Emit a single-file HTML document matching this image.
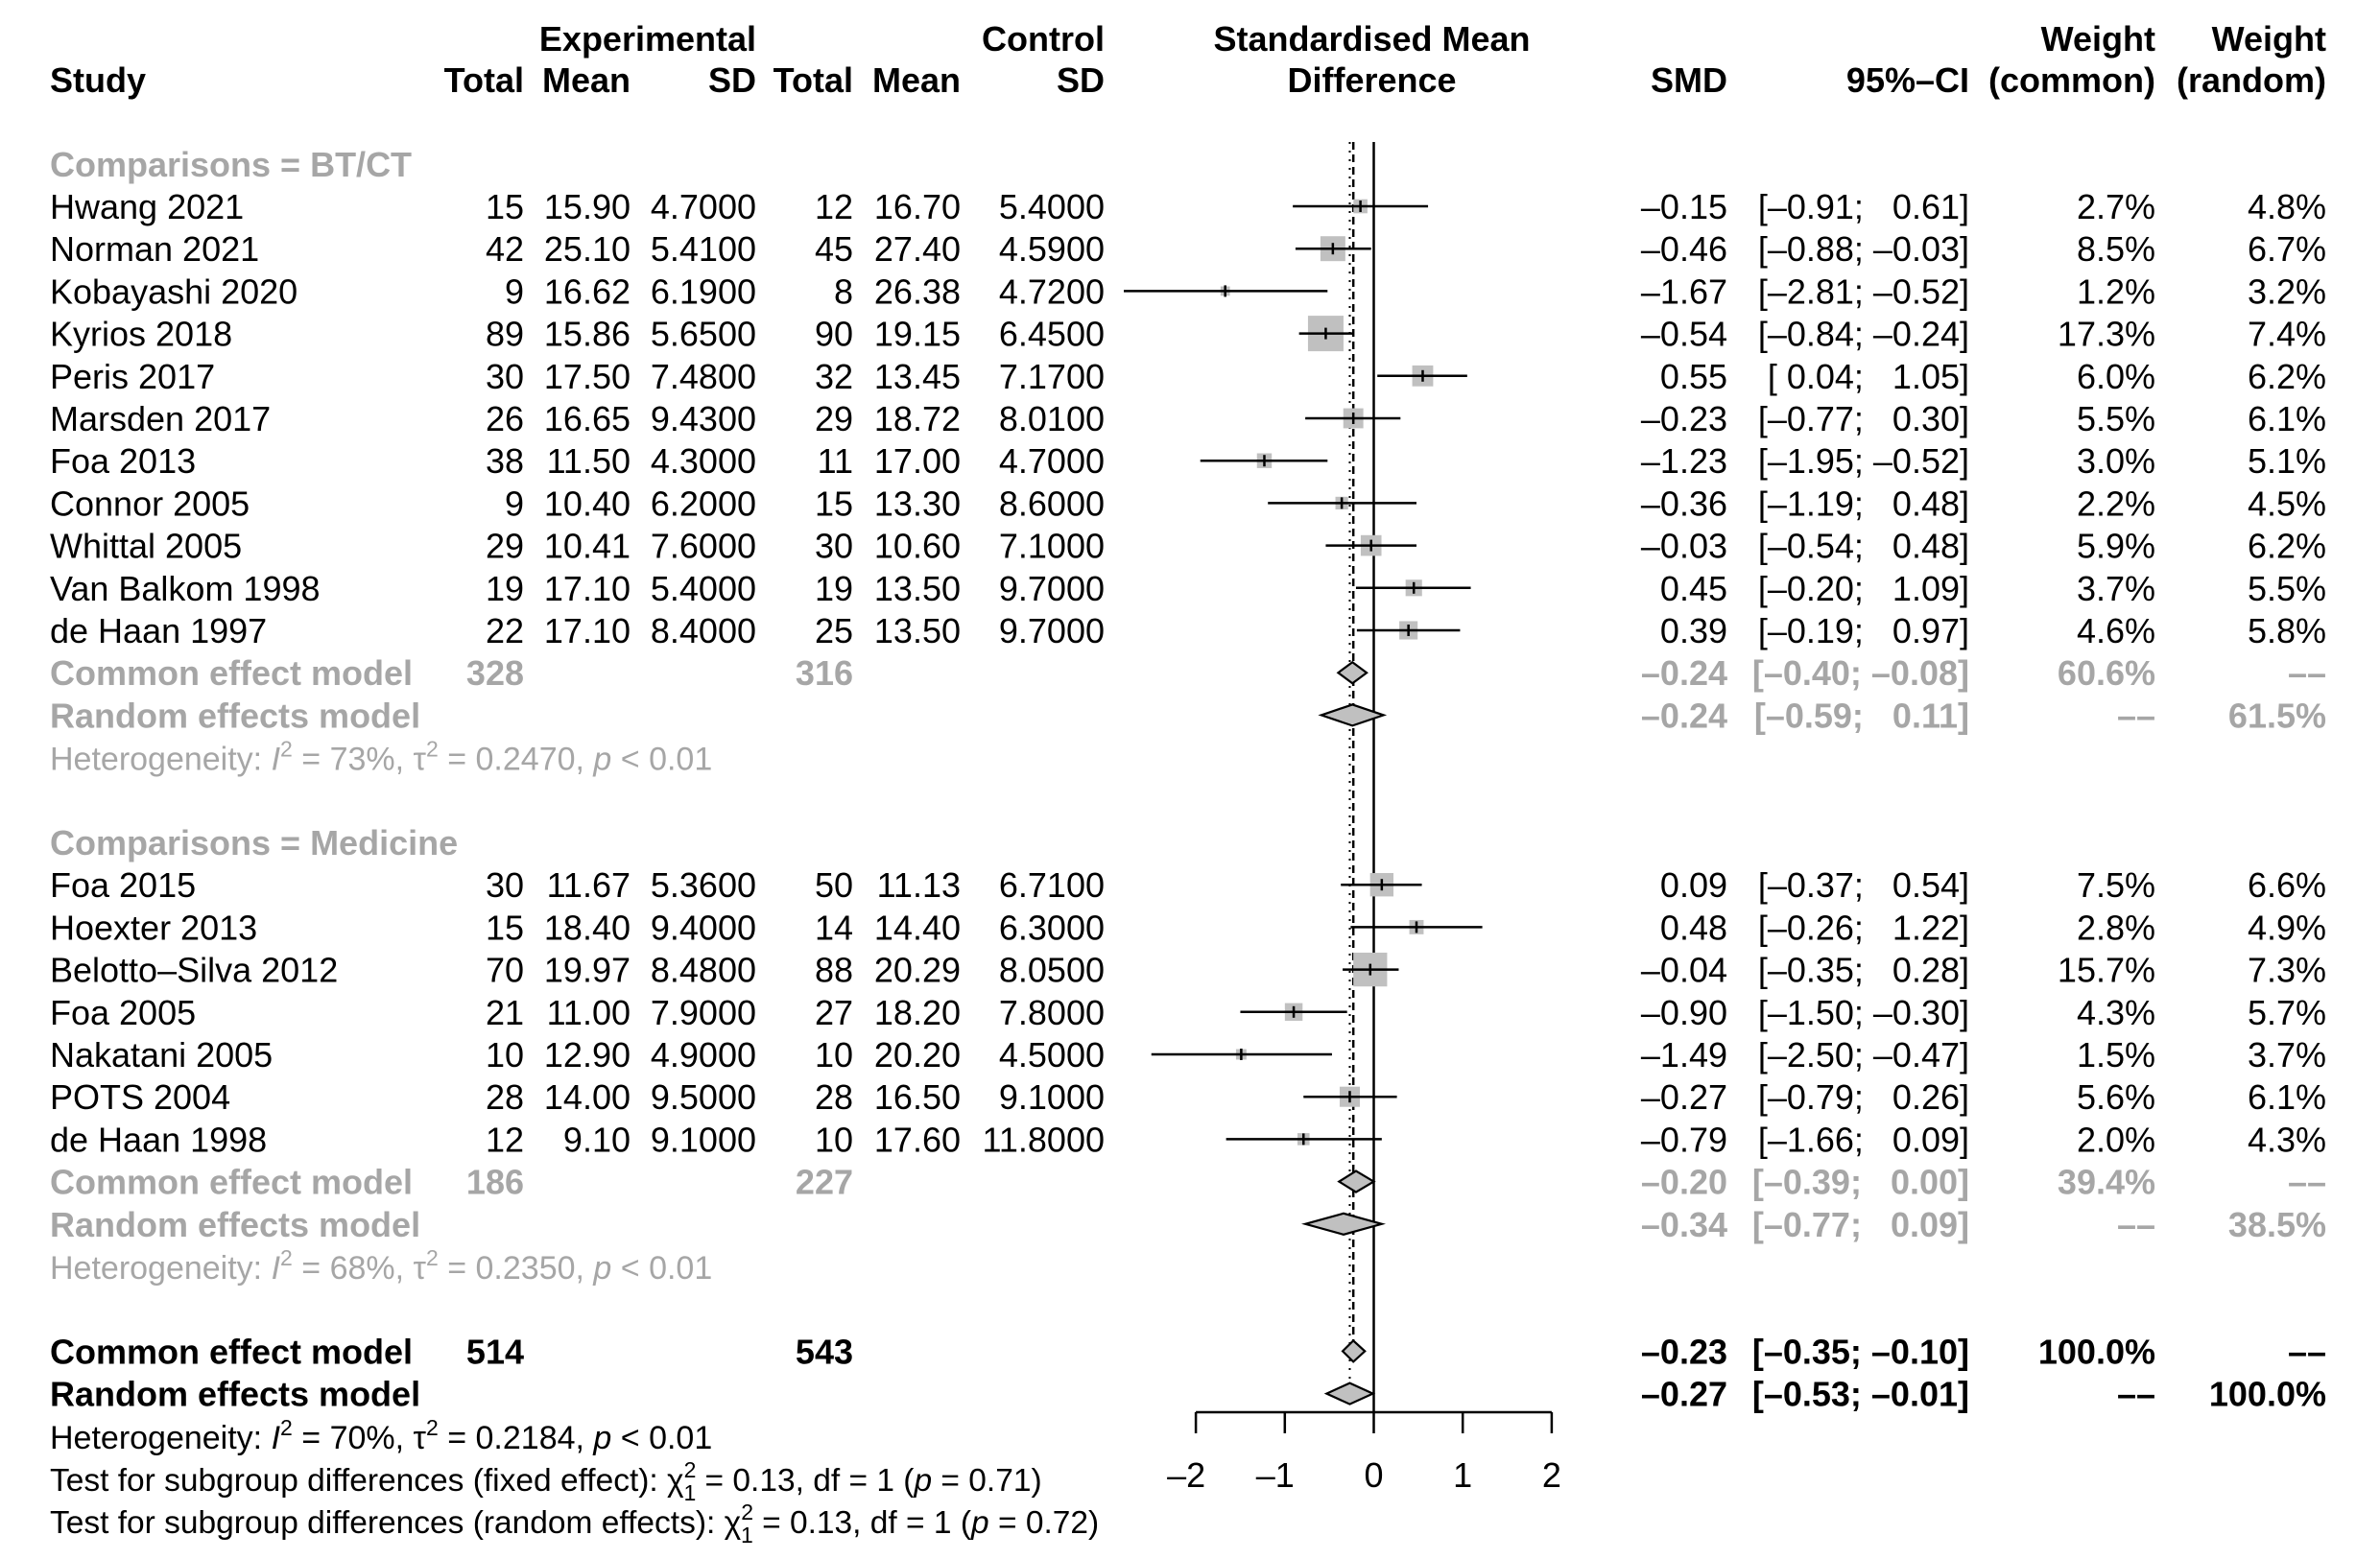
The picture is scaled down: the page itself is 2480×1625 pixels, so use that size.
<!DOCTYPE html>
<html><head><meta charset="utf-8"><style>
html,body{margin:0;padding:0;background:#fff;}
svg{display:block;font-family:"Liberation Sans",Arial,sans-serif;}
svg text{white-space:pre;}
</style></head><body>
<svg id="fp" width="2480" height="1625" viewBox="0 0 2480 1625" xmlns="http://www.w3.org/2000/svg"></svg>
<script>
// ---- data ----
const studyNames1 = ["Hwang 2021","Norman 2021","Kobayashi 2020","Kyrios 2018","Peris 2017","Marsden 2017","Foa 2013","Connor 2005","Whittal 2005","Van Balkom 1998","de Haan 1997"];
const expN1 = [15,42,9,89,30,26,38,9,29,19,22];
const expMean1 = ["15.90","25.10","16.62","15.86","17.50","16.65","11.50","10.40","10.41","17.10","17.10"];
const expSD1 = ["4.7000","5.4100","6.1900","5.6500","7.4800","9.4300","4.3000","6.2000","7.6000","5.4000","8.4000"];
const ctlN1 = [12,45,8,90,32,29,11,15,30,19,25];
const ctlMean1 = ["16.70","27.40","26.38","19.15","13.45","18.72","17.00","13.30","10.60","13.50","13.50"];
const ctlSD1 = ["5.4000","4.5900","4.7200","6.4500","7.1700","8.0100","4.7000","8.6000","7.1000","9.7000","9.7000"];
const smd1 = [-0.15,-0.46,-1.67,-0.54,0.55,-0.23,-1.23,-0.36,-0.03,0.45,0.39];
const lo1 = [-0.91,-0.88,-2.81,-0.84,0.04,-0.77,-1.95,-1.19,-0.54,-0.20,-0.19];
const hi1 = [0.61,-0.03,-0.52,-0.24,1.05,0.30,-0.52,0.48,0.48,1.09,0.97];
const wCom1 = [2.7,8.5,1.2,17.3,6.0,5.5,3.0,2.2,5.9,3.7,4.6];
const wRan1 = [4.8,6.7,3.2,7.4,6.2,6.1,5.1,4.5,6.2,5.5,5.8];

const studyNames2 = ["Foa 2015","Hoexter 2013","Belotto\u2013Silva 2012","Foa 2005","Nakatani 2005","POTS 2004","de Haan 1998"];
const expN2 = [30,15,70,21,10,28,12];
const expMean2 = ["11.67","18.40","19.97","11.00","12.90","14.00","9.10"];
const expSD2 = ["5.3600","9.4000","8.4800","7.9000","4.9000","9.5000","9.1000"];
const ctlN2 = [50,14,88,27,10,28,10];
const ctlMean2 = ["11.13","14.40","20.29","18.20","20.20","16.50","17.60"];
const ctlSD2 = ["6.7100","6.3000","8.0500","7.8000","4.5000","9.1000","11.8000"];
const smd2 = [0.09,0.48,-0.04,-0.90,-1.49,-0.27,-0.79];
const lo2 = [-0.37,-0.26,-0.35,-1.50,-2.50,-0.79,-1.66];
const hi2 = [0.54,1.22,0.28,-0.30,-0.47,0.26,0.09];
const wCom2 = [7.5,2.8,15.7,4.3,1.5,5.6,2.0];
const wRan2 = [6.6,4.9,7.3,5.7,3.7,6.1,4.3];

// pooled: [est, lo, hi]
const poolCommon1 = [-0.24,-0.40,-0.08];
const poolRandom1 = [-0.24,-0.59,0.11];
const poolCommon2 = [-0.20,-0.39,0.00];
const poolRandom2 = [-0.34,-0.77,0.09];
const poolCommonAll = [-0.23,-0.35,-0.10];
const poolRandomAll = [-0.27,-0.53,-0.01];
const axisTicks = [-2,-1,0,1,2];

// ---- layout ----
const svg = document.getElementById('fp');
const NS = 'http://www.w3.org/2000/svg';
const FS = 36, GRAY = '#a6a6a6', BOXC = '#c0c0c0';
const X0 = 1431.5, UNIT = 92.7;
const DASH = '\u2013\u2013';
function xs(v){ return X0 + v*UNIT; }
function rowY(i){ return 215 + 44.2*i; }
const colR = {eN:546,eM:657,eS:788,cN:889,cM:1001,cS:1151,smd:1800,ci:2052,wc:2246,wr:2424};

function mk(tag, attrs, parent){
  const e = document.createElementNS(NS, tag);
  for (const k in attrs) e.setAttribute(k, attrs[k]);
  (parent||svg).appendChild(e);
  return e;
}
function txt(s, x, yc, opt){
  opt = opt||{};
  const t = mk('text', {x:x, y:(yc+13).toFixed(1), 'font-size':opt.fs||FS, fill:opt.color||'#000',
    'text-anchor':opt.anchor||'start', 'font-weight':opt.bold?'bold':'normal'});
  t.setAttributeNS('http://www.w3.org/XML/1998/namespace','xml:space','preserve');
  t.textContent = s;
  
  
  return t;
}
function fmt(v){ const s = Math.abs(v).toFixed(2); return (v<0?'\u2013':'')+s; }
function fmtCI(l,h){ return '['+(l<0?'\u2013':' ')+Math.abs(l).toFixed(2)+'; '+(h<0?'\u2013':'  ')+Math.abs(h).toFixed(2)+']'; }

// headers
const H1 = 40, H2 = 83;
txt('Experimental', colR.eS, H1, {anchor:'end', bold:true, name:'experimental-header'});
txt('Control', colR.cS, H1, {anchor:'end', bold:true, name:'control-header'});
txt('Standardised Mean', X0-2, H1, {anchor:'middle', bold:true, name:'smd-header'});
txt('Difference', X0-2, H2, {anchor:'middle', bold:true, name:'smd-header-2'});
txt('Weight', colR.wc, H1, {anchor:'end', bold:true, name:'weight-common-header'});
txt('Weight', colR.wr, H1, {anchor:'end', bold:true, name:'weight-random-header'});
txt('Study', 52, H2, {bold:true, name:'study-header'});
[['Total','eN'],['Mean','eM'],['SD','eS'],['Total','cN'],['Mean','cM'],['SD','cS']].forEach(function(p){
  txt(p[0], colR[p[1]], H2, {anchor:'end', bold:true, name:'column-header'});
});
txt('SMD', colR.smd, H2, {anchor:'end', bold:true, name:'smd-col-header'});
txt('95%\u2013CI', colR.ci, H2, {anchor:'end', bold:true, name:'ci-col-header'});
txt('(common)', colR.wc, H2, {anchor:'end', bold:true, name:'weight-common-header-2'});
txt('(random)', colR.wr, H2, {anchor:'end', bold:true, name:'weight-random-header-2'});

// reference lines
const gLines = mk('g', {});


const zl = mk('line', {x1:xs(0), x2:xs(0), y1:148, y2:1472, stroke:'#000', 'stroke-width':2.5}, gLines);


const dl = mk('line', {x1:xs(poolCommonAll[0]), x2:xs(poolCommonAll[0]), y1:148, y2:rowY(27)-11, stroke:'#000', 'stroke-width':2.5, 'stroke-dasharray':'8 5'}, gLines);


const ol = mk('line', {x1:xs(poolRandomAll[0]), x2:xs(poolRandomAll[0]), y1:148, y2:rowY(28)-11, stroke:'#000', 'stroke-width':2, 'stroke-dasharray':'2 7'}, gLines);



function studyRow(i, name, en, em, es, cn, cm, cs, est, l, h, wc, wr){
  const y = rowY(i);
  txt(name, 52, y, {name:'study-name'});
  txt(String(en), colR.eN, y, {anchor:'end', name:'exp-total'});
  txt(em, colR.eM, y, {anchor:'end', name:'exp-mean'});
  txt(es, colR.eS, y, {anchor:'end', name:'exp-sd'});
  txt(String(cn), colR.cN, y, {anchor:'end', name:'ctl-total'});
  txt(cm, colR.cM, y, {anchor:'end', name:'ctl-mean'});
  txt(cs, colR.cS, y, {anchor:'end', name:'ctl-sd'});
  txt(fmt(est), colR.smd, y, {anchor:'end', name:'smd-value'});
  txt(fmtCI(l,h), colR.ci, y, {anchor:'end', name:'ci-value'});
  txt(wc.toFixed(1)+'%', colR.wc, y, {anchor:'end', name:'weight-common'});
  txt(wr.toFixed(1)+'%', colR.wr, y, {anchor:'end', name:'weight-random'});
  const s = 8.9*Math.sqrt(wc);
  const box = mk('rect', {x:xs(est)-s/2, y:y-s/2, width:s, height:s, fill:BOXC});
  
  
  const ci = mk('line', {x1:xs(l), x2:xs(h), y1:y, y2:y, stroke:'#000', 'stroke-width':2.5});
  
  
  const tk = mk('line', {x1:xs(est), x2:xs(est), y1:y-6, y2:y+6, stroke:'#000', 'stroke-width':2.5});
  
  
}
function diamond(i, p, name){
  const y = rowY(i);
  const d = mk('polygon', {points:[xs(p[1])+','+y, xs(p[0])+','+(y-11), xs(p[2])+','+y, xs(p[0])+','+(y+11)].join(' '), fill:BOXC, stroke:'#000', 'stroke-width':2.2});
  
  
}
function poolRow(i, label, nE, nC, p, wc, wr, color, name){
  const y = rowY(i);
  txt(label, 52, y, {bold:true, color:color, name:name+'-label'});
  if (nE!==null) txt(String(nE), colR.eN, y, {anchor:'end', bold:true, color:color, name:name+'-exp-total'});
  if (nC!==null) txt(String(nC), colR.cN, y, {anchor:'end', bold:true, color:color, name:name+'-ctl-total'});
  txt(fmt(p[0]), colR.smd, y, {anchor:'end', bold:true, color:color, name:name+'-smd'});
  txt(fmtCI(p[1],p[2]), colR.ci, y, {anchor:'end', bold:true, color:color, name:name+'-ci'});
  txt(wc, colR.wc, y, {anchor:'end', bold:true, color:color, name:name+'-weight-common'});
  txt(wr, colR.wr, y, {anchor:'end', bold:true, color:color, name:name+'-weight-random'});
  diamond(i, p, name+'-diamond');
}
function hetRow(i, I2, tau2, color, name){
  const y = rowY(i);
  const t = mk('text', {x:52, y:(y+13).toFixed(1), 'font-size':34, fill:color});
  
  
  t.innerHTML = 'Heterogeneity: <tspan font-style="italic">I</tspan><tspan font-size="23" dy="-14">2</tspan><tspan dy="14"> = '+I2+', \u03c4</tspan><tspan font-size="23" dy="-14">2</tspan><tspan dy="14"> = '+tau2+', </tspan><tspan font-style="italic">p</tspan> &lt; 0.01';
}
function testRow(i, s){
  const y = rowY(i);
  const t = mk('text', {x:52, y:(y+13).toFixed(1), 'font-size':33.5, fill:'#000'});
  
  
  t.innerHTML = 'Test for subgroup differences ('+s[0]+'): \u03c7<tspan font-size="23" dy="-14">2</tspan><tspan font-size="23" dx="-13" dy="24">1</tspan><tspan dy="-10"> = 0.13, df = 1 (</tspan><tspan font-style="italic">p</tspan> = '+s[1]+')';
}

// group 1
txt('Comparisons = BT/CT', 52, rowY(-1), {bold:true, color:GRAY, name:'subgroup-header-btct'});
for (let k=0;k<studyNames1.length;k++) studyRow(k, studyNames1[k], expN1[k], expMean1[k], expSD1[k], ctlN1[k], ctlMean1[k], ctlSD1[k], smd1[k], lo1[k], hi1[k], wCom1[k], wRan1[k]);
poolRow(11, 'Common effect model', 328, 316, poolCommon1, '60.6%', DASH, GRAY, 'btct-common');
poolRow(12, 'Random effects model', null, null, poolRandom1, DASH, '61.5%', GRAY, 'btct-random');
hetRow(13, '73%', '0.2470', GRAY, 'btct-heterogeneity');

// group 2
txt('Comparisons = Medicine', 52, rowY(15), {bold:true, color:GRAY, name:'subgroup-header-medicine'});
for (let k=0;k<studyNames2.length;k++) studyRow(16+k, studyNames2[k], expN2[k], expMean2[k], expSD2[k], ctlN2[k], ctlMean2[k], ctlSD2[k], smd2[k], lo2[k], hi2[k], wCom2[k], wRan2[k]);
poolRow(23, 'Common effect model', 186, 227, poolCommon2, '39.4%', DASH, GRAY, 'medicine-common');
poolRow(24, 'Random effects model', null, null, poolRandom2, DASH, '38.5%', GRAY, 'medicine-random');
hetRow(25, '68%', '0.2350', GRAY, 'medicine-heterogeneity');

// overall
poolRow(27, 'Common effect model', 514, 543, poolCommonAll, '100.0%', DASH, '#000', 'overall-common');
poolRow(28, 'Random effects model', null, null, poolRandomAll, DASH, '100.0%', '#000', 'overall-random');
hetRow(29, '70%', '0.2184', '#000', 'overall-heterogeneity');
testRow(30, ['fixed effect','0.71']);
testRow(31, ['random effects','0.72']);

// axis
const gAx = mk('g', {});


mk('line', {x1:xs(axisTicks[0]), x2:xs(axisTicks[axisTicks.length-1]), y1:1472, y2:1472, stroke:'#000', 'stroke-width':2.5}, gAx);
axisTicks.forEach(function(v){
  const tl = mk('line', {x1:xs(v), x2:xs(v), y1:1472, y2:1494, stroke:'#000', 'stroke-width':2.5}, gAx);
  
  
  const t = txt((v<0?'\u2013':'')+Math.abs(v), xs(v), 1537, {anchor:'middle', name:'x-tick-label'});
  if (v<0) t.setAttribute('x', xs(v)-10);
});
</script>
</body></html>
